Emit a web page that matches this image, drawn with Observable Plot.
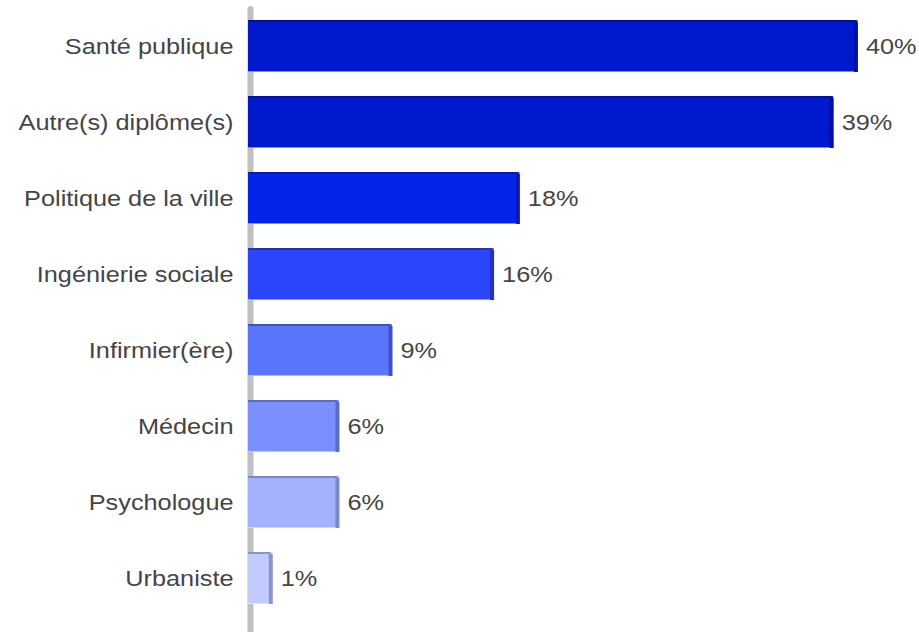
<!DOCTYPE html>
<html>
<head>
<meta charset="utf-8">
<script src="https://cdn.jsdelivr.net/npm/d3@7"></script>
<script src="https://cdn.jsdelivr.net/npm/@observablehq/plot@0.6"></script>
<style>
  html, body { margin: 0; padding: 0; background: #fff; }
  svg { display: block; }
</style>
</head>
<body>
<div id="chart"></div>
<script>
const categories = ["Santé publique", "Autre(s) diplôme(s)", "Politique de la ville", "Ingénierie sociale", "Infirmier(ère)", "Médecin", "Psychologue", "Urbaniste"];
const values = [40.2, 38.6, 17.9, 16.2, 9.5, 6.0, 6.0, 1.6];
const valueLabels = ["40%", "39%", "18%", "16%", "9%", "6%", "6%", "1%"];
const fillColors = ["#0019cc", "#0019cc", "#0524ea", "#2a45fa", "#5a76fd", "#7b90ff", "#a3b1ff", "#c1cbff"];
const edgeColors = ["#0010a0", "#0010a0", "#0a1ab0", "#2233b8", "#4152b8", "#5a6bc0", "#7a86c6", "#8a94c8"];

const data = categories.map((c, i) => ({
  cat: c, value: values[i], label: valueLabels[i], fill: fillColors[i], edge: edgeColors[i]
}));

const bandwidth = 52;
const chart = Plot.plot({
  width: 919,
  height: 632,
  marginLeft: 248,
  marginRight: 4,
  marginTop: 8,
  marginBottom: 16,
  style: { fontFamily: "'Liberation Sans', Arial, sans-serif", background: "#fff" },
  x: { domain: [0, 44], axis: null },
  y: { domain: categories, paddingInner: 0.316, paddingOuter: 0.158, label: null, axis: null },
  marks: [
    Plot.ruleX([0], { stroke: "#c0c0c0", strokeWidth: 6, dx: 2, insetTop: 1, insetBottom: -20, strokeLinecap: "round" }),
    Plot.barX(data, { x: "value", y: "cat", fill: "fill", insetBottom: 1 }),
    Plot.barX(data, { x: "value", y: "cat", fill: d => d3.interpolateRgb(d.fill, "#ffffff")(0.5), insetTop: bandwidth - 1 }),
    Plot.barX(data, { x: "value", y: "cat", fill: "edge", insetBottom: bandwidth - 2, insetRight: 2 }),
    Plot.tickX(data, { x: "value", y: "cat", stroke: "edge", strokeWidth: 4, dx: -2, insetTop: 2 }),
    Plot.text(data, { x: "value", y: "cat", text: "label", dx: 8, textAnchor: "start", fontSize: 22, fill: "#454545" }),
    Plot.text(data, { x: 0, y: "cat", text: "cat", dx: -15, textAnchor: "end", fontSize: 22, fill: "#454545" })
  ]
});
document.getElementById("chart").appendChild(chart);
// horizontally stretch the text like the reference rendering
chart.querySelectorAll("text").forEach(t => {
  const tr = t.getAttribute("transform") || "";
  t.setAttribute("transform", tr + " scale(1.15,1)");
});
</script>
</body>
</html>
